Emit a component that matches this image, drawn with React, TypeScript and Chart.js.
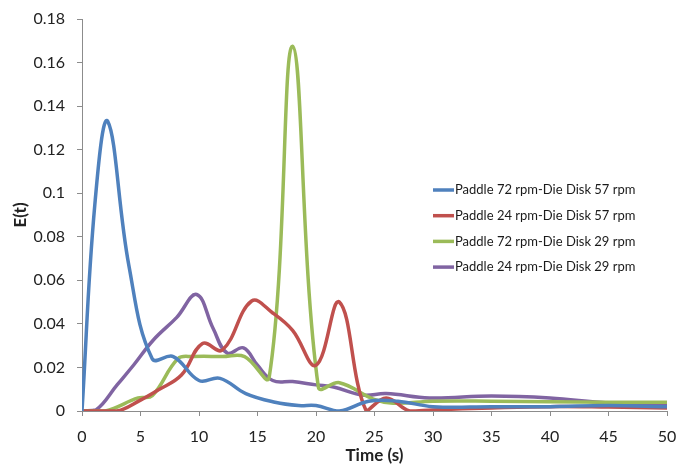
import React, { useEffect, useRef } from "react";
import { Chart, registerables } from "chart.js";

Chart.register(...registerables);

const seriesLabels = [
  "Paddle 72 rpm-Die Disk 57 rpm",
  "Paddle 24 rpm-Die Disk 57 rpm",
  "Paddle 72 rpm-Die Disk 29 rpm",
  "Paddle 24 rpm-Die Disk 29 rpm",
];
const seriesColors = ["#4F81BD", "#C0504D", "#9BBB59", "#8064A2"];

const blueT = [0, 1.1, 2.2, 4, 6, 7.8, 10, 11.8, 14, 16.5, 18.5, 20, 22, 24.5, 27, 30, 35, 40, 45, 50];
const blueE = [0, 0.095, 0.133, 0.067, 0.024, 0.025, 0.014, 0.015, 0.008, 0.004, 0.0025, 0.0025, 0, 0.0045, 0.0045, 0.002, 0.002, 0.002, 0.0025, 0.002];

const redT = [0, 3, 5, 6.5, 8.5, 10.3, 12, 14.5, 16.3, 18, 20, 22, 24.3, 26, 28, 30, 35, 40, 45, 50];
const redE = [0, 0, 0.005, 0.0096, 0.0165, 0.031, 0.028, 0.0505, 0.045, 0.037, 0.021, 0.05, 0, 0.006, 0, 0.0005, 0.0014, 0.002, 0.0018, 0.0014];

const greenT = [0, 2, 4.8, 6, 8.2, 9.5, 12, 13.9, 16, 18, 20.2, 22, 24.9, 26.6, 30, 35, 40, 45, 50];
const greenE = [0, 0, 0.006, 0.007, 0.024, 0.025, 0.025, 0.025, 0.0155, 0.1675, 0.011, 0.013, 0.0055, 0.0036, 0.0045, 0.0045, 0.0042, 0.004, 0.004];

const purpleT = [0, 1.2, 3, 4.4, 6.1, 8.1, 9.8, 11.2, 12.4, 13.8, 15, 16.3, 18, 20, 21.5, 24, 26, 29.7, 35, 40, 45, 50];
const purpleE = [0, 0.0005, 0.012, 0.021, 0.0326, 0.043, 0.0535, 0.038, 0.0266, 0.029, 0.021, 0.014, 0.0135, 0.012, 0.011, 0.0073, 0.008, 0.006, 0.0069, 0.006, 0.0037, 0.003];

const seriesT = [blueT, redT, greenT, purpleT];
const seriesE = [blueE, redE, greenE, purpleE];

const xTitle = "Time (s)";
const yTitle = "E(t)";

const FONT = "Lato, 'Open Sans', sans-serif";

const legendPlugin = {
  id: "customLegend",
  afterDraw(chart: any) {
    const { ctx, chartArea } = chart;
    const w = chartArea.right - chartArea.left;
    const h = chartArea.bottom - chartArea.top;
    const x0 = chartArea.left + w * (351 / 585);
    const y0 = chartArea.top + h * (171 / 392);
    const step = h * (25.7 / 392);
    ctx.save();
    ctx.font = `13px ${FONT}`;
    ctx.textBaseline = "middle";
    ctx.textAlign = "left";
    seriesLabels.forEach((lab, i) => {
      const y = y0 + i * step;
      ctx.strokeStyle = seriesColors[i];
      ctx.lineWidth = 3.5;
      ctx.lineCap = "butt";
      ctx.beginPath();
      ctx.moveTo(x0, y);
      ctx.lineTo(x0 + 21, y);
      ctx.stroke();
      ctx.fillStyle = "#1a1a1a";
      ctx.fillText(lab, x0 + 22, y);
    });
    ctx.restore();
  },
};

export default function App() {
  const ref = useRef<HTMLCanvasElement>(null);
  useEffect(() => {
    document.body.style.margin = "0";
    const canvas = ref.current!;
    const chart = new Chart(canvas, {
      type: "line",
      data: {
        datasets: seriesLabels.map((label, i) => ({
          label,
          data: seriesT[i].map((t, j) => ({ x: t, y: seriesE[i][j] })),
          borderColor: seriesColors[i],
          backgroundColor: seriesColors[i],
          borderWidth: 3.5,
          pointRadius: 0,
          tension: 0.4,
          fill: false,
        })),
      },
      options: {
        responsive: false,
        animation: false,
        layout: { padding: { left: 0, right: 0, top: 0, bottom: 0 } },
        plugins: {
          legend: { display: false },
          tooltip: { enabled: false },
        },
        scales: {
          x: {
            type: "linear",
            min: 0,
            max: 50,
            ticks: {
              stepSize: 5,
              color: "#222",
              font: { family: FONT, size: 16 },
              padding: 11,
              maxRotation: 0,
            },
            grid: {
              display: true,
              drawOnChartArea: false,
              drawTicks: true,
              tickLength: 5,
              color: "#8c8c8c",
            },
            border: { color: "#8c8c8c", width: 1 },
            title: {
              display: true,
              text: xTitle,
              color: "#222",
              font: { family: FONT, size: 17, weight: "bold" },
              padding: { top: 0, bottom: 1 },
            },
            afterFit: (s: any) => {
              s.height = 56;
              s.paddingRight = 11;
              s.paddingLeft = 0;
            },
          },
          y: {
            type: "linear",
            min: 0,
            max: 0.18,
            ticks: {
              stepSize: 0.02,
              color: "#222",
              font: { family: FONT, size: 16 },
              padding: 12,
              callback: (v: any) => String(+Number(v).toFixed(2)),
            },
            grid: {
              display: true,
              drawOnChartArea: false,
              drawTicks: true,
              tickLength: 5,
              color: "#8c8c8c",
            },
            border: { color: "#8c8c8c", width: 1 },
            title: {
              display: true,
              text: yTitle,
              color: "#222",
              font: { family: FONT, size: 17, weight: "bold" },
              padding: { top: 10, bottom: 0 },
            },
            afterFit: (s: any) => {
              s.width = 82;
              s.paddingTop = 19;
              s.paddingBottom = 0;
            },
          },
        },
      },
      plugins: [legendPlugin],
    });
    return () => chart.destroy();
  }, []);
  return <canvas ref={ref} width={678} height={467} style={{ display: "block" }} />;
}
